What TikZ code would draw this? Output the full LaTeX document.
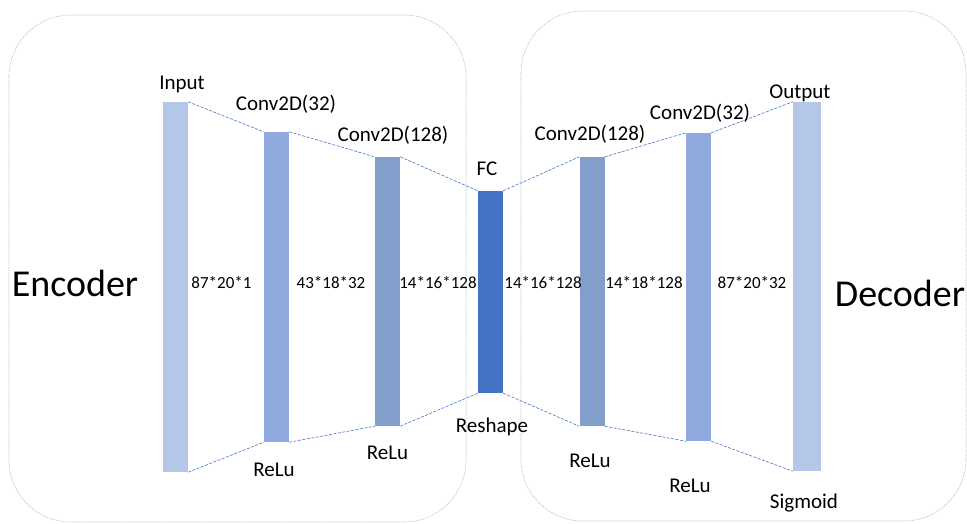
\documentclass[tikz,border=0pt]{standalone}
\usepackage{fontspec}
\setmainfont{Carlito}
\definecolor{barA}{HTML}{B4C7E7}
\definecolor{barB}{HTML}{8FAADC}
\definecolor{barC}{HTML}{829FCB}
\definecolor{barD}{HTML}{4472C4}
\definecolor{frame}{HTML}{BFBFBF}
\begin{document}
\begin{tikzpicture}[x=1pt,y=-1pt,
  bar/.style={draw=none,inner sep=0pt,minimum width=25pt},
  link/.style={draw=barD,dashed,dash pattern=on 3pt off 1.5pt,line width=0.6pt},
  panel/.style={draw=frame,dash pattern=on 1.5pt off 1pt,line width=0.6pt,rounded corners=62pt},
  lbl/.style={font=\fontsize{21}{23}\selectfont,inner sep=0pt},
  dim/.style={font=\fontsize{17}{19}\selectfont,inner sep=0pt},
  big/.style={font=\fontsize{38}{40}\selectfont,inner sep=0pt}]
\useasboundingbox (0,0) rectangle (967,523);
\draw[panel] (9,15) rectangle (466,522);
\draw[panel] (521,11) rectangle (966,521);
% bars
\node[bar,fill=barA,minimum height=370pt] (in) at (175.5,287) {};
\node[bar,fill=barB,minimum height=310pt] (e1) at (276.5,287) {};
\node[bar,fill=barC,minimum height=269pt] (e2) at (387.5,291.5) {};
\node[bar,fill=barD,minimum height=202pt] (fc) at (490.5,292) {};
\node[bar,fill=barC,minimum height=269pt] (d1) at (592,291.5) {};
\node[bar,fill=barB,minimum height=308pt] (d2) at (698.5,287) {};
\node[bar,fill=barA,minimum height=369pt,minimum width=28pt] (out) at (807,286.5) {};
% links
\draw[link] (in.north east) -- (e1.north west);
\draw[link] (e1.north east) -- (e2.north west);
\draw[link] (e2.north east) -- (fc.north west);
\draw[link] (fc.north east) -- (d1.north west);
\draw[link] (d1.north east) -- (d2.north west);
\draw[link] (d2.north east) -- (out.north west);
\draw[link] (in.south east) -- (e1.south west);
\draw[link] (e1.south east) -- (e2.south west);
\draw[link] (e2.south east) -- (fc.south west);
\draw[link] (fc.south east) -- (d1.south west);
\draw[link] (d1.south east) -- (d2.south west);
\draw[link] (d2.south east) -- (out.south west);
% labels
\node[lbl] (tin) at (182,84) {Input};
\node[lbl] (te1) at (286,104) {Conv2D(32)};
\node[lbl] (te2) at (393,135) {Conv2D(128)};
\node[lbl] (tfc) at (487,169) {FC};
\node[lbl] (trs) at (492,427) {Reshape};
\node[lbl] (tr1) at (274,470) {ReLu};
\node[lbl] (tr2) at (387.5,453) {ReLu};
\node[lbl] (td1) at (590,134) {Conv2D(128)};
\node[lbl] (td2) at (700,113) {Conv2D(32)};
\node[lbl] (tout) at (800,93) {Output};
\node[lbl] (tr3) at (590,461) {ReLu};
\node[lbl] (tr4) at (690,486) {ReLu};
\node[lbl] (tsg) at (804,503) {Sigmoid};
\node[dim] (s1) at (221.5,283) {87*20*1};
\node[dim] (s2) at (331,283) {43*18*32};
\node[dim] (s3) at (438,283) {14*16*128};
\node[dim] (s4) at (543,283) {14*16*128};
\node[dim] (s5) at (644,283) {14*18*128};
\node[dim] (s6) at (752,283) {87*20*32};
\node[big] (enc) at (75,283) {Encoder};
\node[big] (dec) at (900,293) {Decoder};
\end{tikzpicture}
\end{document}
